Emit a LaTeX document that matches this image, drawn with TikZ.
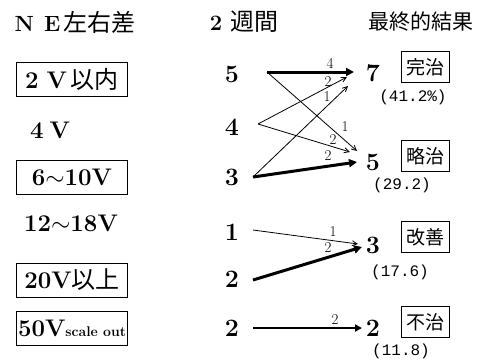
\documentclass[tikz,border=0pt]{standalone}
\usepackage{fontspec}
\newfontfamily\jpfam{Noto Sans CJK JP}
\newcommand\jp{\mdseries\jpfam}
\newfontfamily\pctfont{Liberation Mono}
\usetikzlibrary{arrows.meta}
\tikzset{
  hdr/.style={font=\fontsize{22}{22}\selectfont\bfseries, inner sep=0pt},
  lbox/.style={draw, line width=1pt, minimum width=111pt, minimum height=34pt, inner sep=0pt, font=\fontsize{24}{24}\selectfont\bfseries},
  ltxt/.style={inner sep=0pt, font=\fontsize{24}{24}\selectfont\bfseries},
  num/.style={inner sep=0pt, font=\fontsize{25}{25}\selectfont\bfseries},
  rbox/.style={draw, line width=1pt, minimum width=48pt, minimum height=31pt, inner sep=0pt, font=\fontsize{19}{19}\selectfont\jp},
  pct/.style={inner sep=0pt, font=\fontsize{16}{16}\selectfont\pctfont},
  alab/.style={inner sep=0pt, font=\fontsize{15}{15}\selectfont},
  thinarr/.style={line width=0.8pt, -{Straight Barb[length=5pt,width=5pt]}},
  thickarr/.style={line width=3pt, -{Triangle[length=8pt,width=8pt]}},
  medarr/.style={line width=2pt, -{Triangle[length=7pt,width=7pt]}}
}
\begin{document}
\begin{tikzpicture}[x=1pt,y=-1pt]
\useasboundingbox (0,0) rectangle (479,359);
% headers
\node[hdr] (h1) at (75,22) {N\hspace{10pt}E\hspace{3pt}{\fontsize{24}{24}\selectfont\jp 左右差}};
\node[hdr] (h2) at (244,22) {2\hspace{8pt}{\fontsize{24}{24}\selectfont\jp 週間}};
\node[hdr] (h3) at (421,22) {\fontsize{21}{21}\selectfont\jp 最終的結果};
% left column
\node[lbox] (l1) at (72,79) {2\hspace{8pt}V\hspace{4pt}{\jp 以内}};
\node[ltxt] (l2) at (50,130) {4\hspace{6pt}V};
\node[lbox] (l3) at (72,177) {6$\sim$10V};
\node[ltxt] (l4) at (71,223) {12$\sim$18V};
\node[lbox] (l5) at (72,280) {20V{\jp 以上}};
\node[lbox] (l6) at (72,328) {50V{\fontsize{14}{14}\selectfont\bfseries scale out}};
% middle numbers
\node[num] (m5) at (232,74) {5};
\node[num] (m4) at (232,127) {4};
\node[num] (m3) at (232,177) {3};
\node[num] (m1) at (232,232) {1};
\node[num] (m2a) at (232,279) {2};
\node[num] (m2b) at (232,328) {2};
% right numbers
\node[num] (r7) at (373,73) {7};
\node[num] (r5) at (373,162) {5};
\node[num] (r3) at (373,245) {3};
\node[num] (r2) at (373,328) {2};
% right boxes
\node[rbox] (b1) at (425,67) {完治};
\node[rbox] (b2) at (425,156) {略治};
\node[rbox] (b3) at (425,237) {改善};
\node[rbox] (b4) at (425,322) {不治};
\node[pct] (p1) at (413,97) {(41.2\%)};
\node[pct] (p2) at (402,185) {(29.2)};
\node[pct] (p3) at (400,272) {(17.6)};
\node[pct] (p4) at (401,351) {(11.8)};
% arrow endpoints
\coordinate (s5) at (267,72);
\coordinate (s4) at (258,124);
\coordinate (s3) at (253,177);
\coordinate (s1) at (253,230);
\coordinate (s2a) at (253,280);
\coordinate (s2b) at (253,328);
\coordinate (e7a) at (354,72);
\coordinate (e7b) at (347,77);
\coordinate (e7c) at (348,86);
\coordinate (e5a) at (357,151);
\coordinate (e5b) at (350,152);
\coordinate (e5c) at (357,162);
\coordinate (e3a) at (358,244);
\coordinate (e3b) at (362,247);
\coordinate (e2) at (362,328);
% arrows
\draw[thickarr] (s5) -- (e7a);
\draw[thinarr] (s5) -- (e5a);
\draw[thinarr] (s4) -- (e7b);
\draw[thinarr] (s4) -- (e5b);
\draw[thinarr] (s3) -- (e7c);
\draw[thickarr] (s3) -- (e5c);
\draw[thinarr] (s1) -- (e3a);
\draw[thickarr] (s2a) -- (e3b);
\draw[medarr] (s2b) -- (e2);
% arrow labels
\node[alab] (a1) at (330,63) {4};
\node[alab] (a2) at (345,127) {1};
\node[alab] (a3) at (328,82) {2};
\node[alab] (a4) at (333,140) {2};
\node[alab] (a5) at (327,97) {1};
\node[alab] (a6) at (328,156) {2};
\node[alab] (a7) at (333,232) {1};
\node[alab] (a8) at (328,248) {2};
\node[alab] (a9) at (335,320) {2};
\end{tikzpicture}
\end{document}
